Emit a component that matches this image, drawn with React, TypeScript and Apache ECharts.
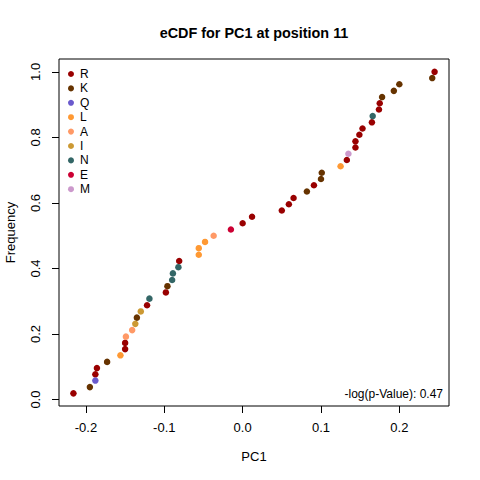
import React, { useEffect, useRef } from "react";
import * as echarts from "echarts";

const groupNames = ["R", "K", "Q", "L", "A", "I", "N", "E", "M"];
const groupColors = ["#990000", "#663300", "#6A5ACD", "#FF9933", "#FF9966", "#CC9933", "#336666", "#CC0033", "#CC99CC"];

const pointGroups = [
  "R", "K", "Q", "R", "R", "K", "L", "R", "R", "A",
  "A", "I", "K", "I", "R", "N", "R", "K", "N", "N",
  "N", "R", "L", "L", "L", "A", "E", "R", "R", "R",
  "R", "R", "K", "R", "K", "K", "L", "R", "M", "R",
  "R", "R", "R", "R", "N", "R", "R", "K", "K", "K",
  "K", "R",
];

const pc1Values = [
  -0.216, -0.195, -0.188, -0.188, -0.186, -0.173, -0.156, -0.150, -0.150, -0.149,
  -0.141, -0.137, -0.135, -0.130, -0.122, -0.119, -0.098, -0.096, -0.090, -0.089,
  -0.082, -0.081, -0.056, -0.056, -0.048, -0.037, -0.015, 0.000, 0.012, 0.050,
  0.059, 0.065, 0.082, 0.091, 0.100, 0.101, 0.125, 0.133, 0.135, 0.144,
  0.144, 0.149, 0.153, 0.165, 0.166, 0.174, 0.175, 0.178, 0.193, 0.200,
  0.242, 0.245,
];

const freqValues = [
  0.019, 0.038, 0.058, 0.077, 0.096, 0.115, 0.135, 0.154, 0.173, 0.192,
  0.212, 0.231, 0.25, 0.269, 0.288, 0.308, 0.327, 0.346, 0.365, 0.385,
  0.404, 0.423, 0.442, 0.462, 0.481, 0.5, 0.519, 0.538, 0.558, 0.577,
  0.596, 0.615, 0.635, 0.654, 0.673, 0.692, 0.712, 0.731, 0.75, 0.769,
  0.788, 0.808, 0.827, 0.846, 0.865, 0.885, 0.904, 0.923, 0.942, 0.962,
  0.981, 1.0,
];

const xTicks = [-0.2, -0.1, 0, 0.1, 0.2];
const yTicks = [0, 0.2, 0.4, 0.6, 0.8, 1.0];

const titleText = "eCDF for PC1 at position 11";
const noteText = "-log(p-Value): 0.47";

const FONT = "'Liberation Sans', Arial, Helvetica, sans-serif";

export default function App() {
  const ref = useRef<HTMLDivElement>(null);
  useEffect(() => {
    document.body.style.margin = "0";
    if (!ref.current) return;
    const chart = echarts.init(ref.current, undefined, { renderer: "svg" });

    const series = groupNames.map((g, gi) => ({
      name: g,
      type: "scatter",
      symbol: "circle",
      symbolSize: 6.5,
      itemStyle: { color: groupColors[gi], opacity: 1 },
      data: pc1Values
        .map((x, i) => (pointGroups[i] === g ? [x, freqValues[i]] : null))
        .filter((d) => d !== null),
    }));

    chart.setOption({
      animation: false,
      backgroundColor: "#ffffff",
      textStyle: { fontFamily: FONT },
      grid: {
        left: 59,
        right: 31,
        top: 59,
        bottom: 74,
        outerBoundsMode: "none",
        containLabel: false,
        show: true,
        borderColor: "#000",
        borderWidth: 1,
        backgroundColor: "transparent",
      },
      legend: {
        orient: "vertical",
        left: 63,
        top: 62,
        itemWidth: 6,
        itemHeight: 6,
        itemGap: 0.4,
        icon: "circle",
        data: groupNames,
        selectedMode: false,
        textStyle: {
          fontFamily: FONT,
          fontSize: 12,
          color: "#000",
          lineHeight: 14,
          padding: [0, 0, 0, 1],
        },
      },
      xAxis: {
        type: "value",
        min: -0.2344,
        max: 0.2634,
        name: "PC1",
        nameLocation: "middle",
        nameGap: 44,
        nameTextStyle: { fontFamily: FONT, fontSize: 13, color: "#000" },
        axisLine: { show: false, onZero: false },
        splitLine: { show: false },
        axisTick: {
          show: true,
          length: 7,
          customValues: xTicks,
          lineStyle: { color: "#000", width: 1 },
        },
        axisLabel: {
          customValues: xTicks,
          margin: 15,
          fontFamily: FONT,
          fontSize: 13,
          color: "#000",
          formatter: (v: number) => v.toFixed(1),
        },
      },
      yAxis: {
        type: "value",
        min: -0.0196,
        max: 1.0392,
        name: "Frequency",
        nameLocation: "middle",
        nameGap: 42,
        nameRotate: 90,
        nameTextStyle: { fontFamily: FONT, fontSize: 13, color: "#000" },
        axisLine: { show: false, onZero: false },
        splitLine: { show: false },
        axisTick: {
          show: true,
          length: 7,
          customValues: yTicks,
          lineStyle: { color: "#000", width: 1 },
        },
        axisLabel: {
          customValues: yTicks,
          rotate: 90,
          margin: 17,
          fontFamily: FONT,
          fontSize: 13,
          color: "#000",
          formatter: (v: number) => v.toFixed(1),
        },
      },
      graphic: [
        {
          type: "text",
          x: 254,
          y: 33,
          style: {
            text: titleText,
            fontFamily: FONT,
            fontSize: 14.4,
            fontWeight: "bold",
            fill: "#000",
            textAlign: "center",
            textVerticalAlign: "middle",
          },
        },
        {
          type: "text",
          x: 443,
          y: 394,
          style: {
            text: noteText,
            fontFamily: FONT,
            fontSize: 12,
            fill: "#000",
            textAlign: "right",
            textVerticalAlign: "middle",
          },
        },
      ],
      series,
    });
    return () => chart.dispose();
  }, []);
  return <div ref={ref} style={{ width: 480, height: 480 }} />;
}
